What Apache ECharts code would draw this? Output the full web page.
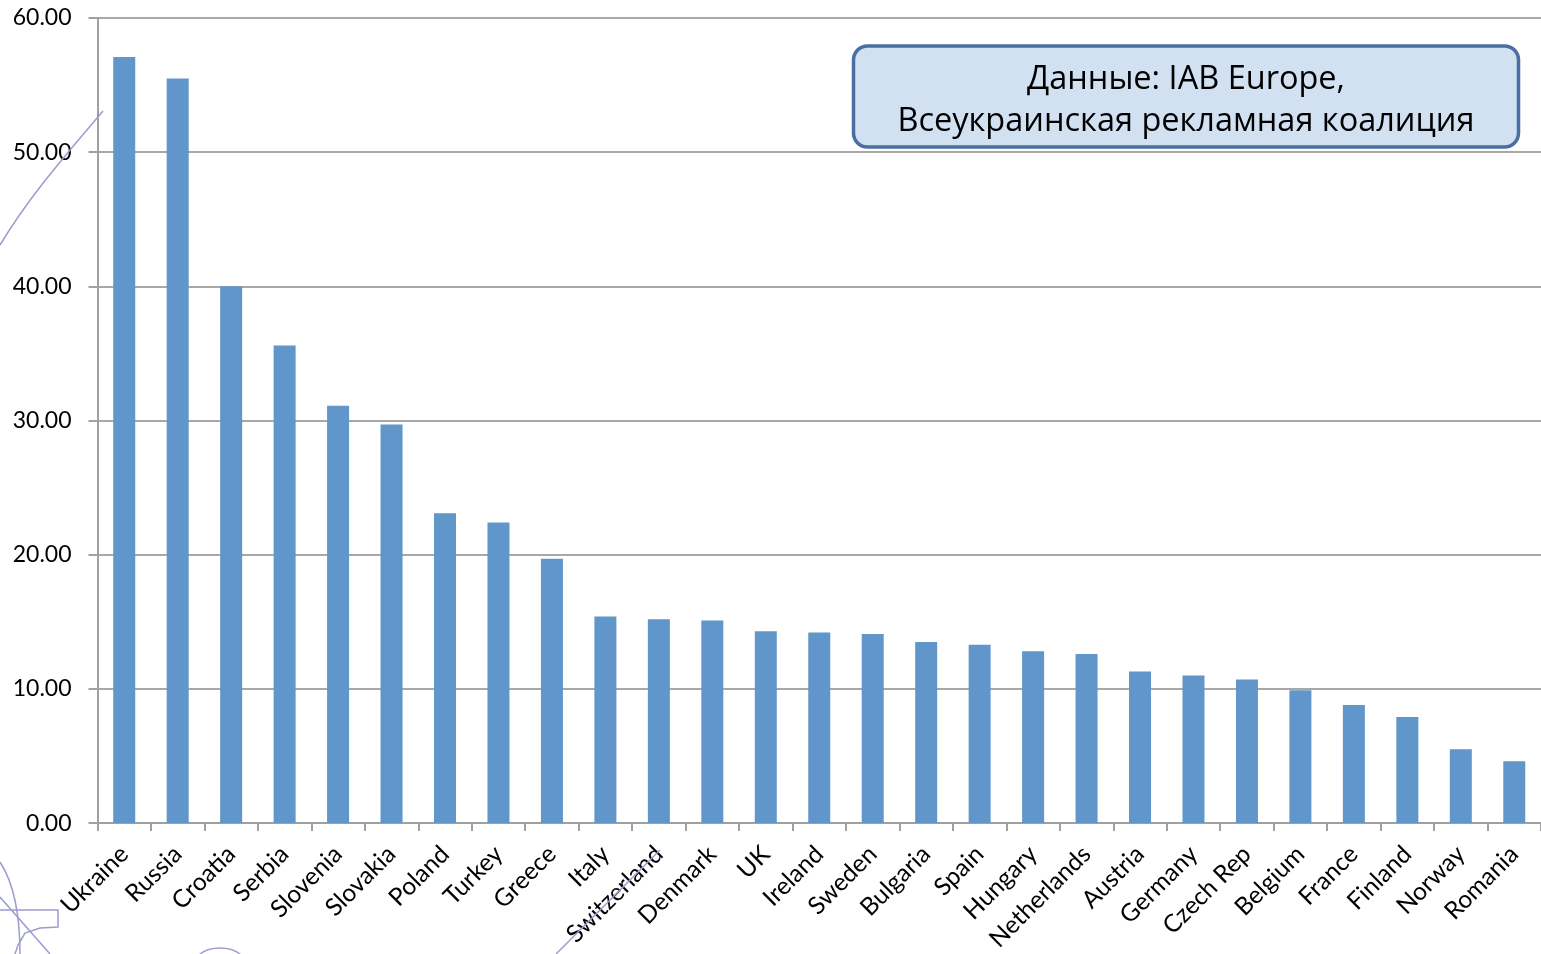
<!DOCTYPE html>
<html>
<head>
<meta charset="utf-8">
<script src="https://cdn.jsdelivr.net/npm/echarts@6/dist/echarts.min.js"></script>
<style>
html,body{margin:0;padding:0;background:#fff;}
#chart{width:1541px;height:954px;}
</style>
</head>
<body>
<div id="chart"></div>
<script>
const categories = ["Ukraine","Russia","Croatia","Serbia","Slovenia","Slovakia","Poland","Turkey","Greece","Italy","Switzerland","Denmark","UK","Ireland","Sweden","Bulgaria","Spain","Hungary","Netherlands","Austria","Germany","Czech Rep","Belgium","France","Finland","Norway","Romania"];
const values = [57.1,55.5,40.0,35.6,31.1,29.7,23.1,22.4,19.7,15.4,15.2,15.1,14.3,14.2,14.1,13.5,13.3,12.8,12.6,11.3,11.0,10.7,9.9,8.8,7.9,5.5,4.6];
const yTicks = [0,10,20,30,40,50,60];
const noteLines = ["Данные: IAB Europe,","Всеукраинская рекламная коалиция"];

const FONT = 'Lato, "Open Sans", "DejaVu Sans", sans-serif';
const deco = '#9C9CD0';
const chart = echarts.init(document.getElementById('chart'));
chart.setOption({
  animation:false,
  backgroundColor:'#fff',
  grid:{left:97.5,right:-2.5,top:18,bottom:128,containLabel:false},
  xAxis:{
    type:'category',
    data:categories,
    boundaryGap:true,
    axisLine:{lineStyle:{color:'#A0A0A0',width:2}},
    axisTick:{show:true,length:8,lineStyle:{color:'#A0A0A0',width:2}},
    axisLabel:{rotate:45,fontSize:24.5,color:'#000',fontFamily:FONT,margin:27,interval:0}
  },
  yAxis:{
    type:'value',
    min:yTicks[0],max:yTicks[yTicks.length-1],interval:10,
    axisLine:{show:true,lineStyle:{color:'#A0A0A0',width:2}},
    axisTick:{show:true,length:9,lineStyle:{color:'#A0A0A0',width:2}},
    splitLine:{lineStyle:{color:'#A8A8A8',width:2}},
    axisLabel:{fontSize:23,color:'#000',fontFamily:FONT,margin:26,padding:[5,0,0,0],formatter:v=>v.toFixed(2)}
  },
  series:[{
    type:'bar',
    data:values,
    barWidth:22,
    itemStyle:{color:'#6096C9'},
    z:3
  }],
  graphic:[
    {type:'bezierCurve',silent:true,z:1,shape:{x1:0,y1:245,x2:103,y2:111,cpx1:30,cpy1:195,cpx2:70,cpy2:150},style:{stroke:deco,lineWidth:1.5,fill:null}},
    {type:'line',silent:true,z:1,shape:{x1:556,y1:954,x2:660,y2:850},style:{stroke:deco,lineWidth:1.5}},
    {type:'polyline',silent:true,z:1,shape:{points:[[0,910],[58,910],[58,927],[40,928],[25,933],[18,945],[15,954]]},style:{stroke:deco,lineWidth:1.5,fill:null}},
    {type:'line',silent:true,z:1,shape:{x1:0,y1:897,x2:50,y2:954},style:{stroke:deco,lineWidth:1.5}},
    {type:'bezierCurve',silent:true,z:1,shape:{x1:0,y1:862,x2:20,y2:954,cpx1:15,cpy1:885,cpx2:20,cpy2:920},style:{stroke:deco,lineWidth:1.5,fill:null}},
    {type:'bezierCurve',silent:true,z:1,shape:{x1:200,y1:954,x2:240,y2:954,cpx1:210,cpy1:946,cpx2:230,cpy2:946},style:{stroke:deco,lineWidth:1.5,fill:null}},
    {type:'rect',z:10,shape:{x:853.5,y:46,width:665,height:101,r:14},style:{fill:'#D2E1F2',stroke:'#4A6FA0',lineWidth:3.5}},
    {type:'text',z:11,style:{x:1186,y:80,text:noteLines[0],fontSize:32.5,fontFamily:'"Open Sans", Lato, sans-serif',fill:'#000',align:'center',verticalAlign:'middle'}},
    {type:'text',z:11,style:{x:1186,y:122,text:noteLines[1],fontSize:32.5,fontFamily:'"Open Sans", Lato, sans-serif',fill:'#000',align:'center',verticalAlign:'middle'}}
  ]
});
</script>
</body>
</html>
